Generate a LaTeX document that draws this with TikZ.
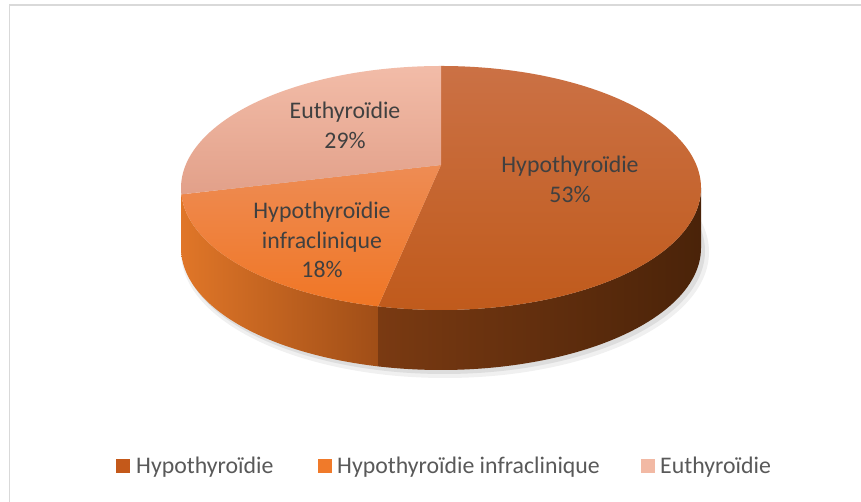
\documentclass[tikz,border=0pt]{standalone}
\usepackage{fontspec}
\setmainfont{Carlito}
\begin{document}
\begin{tikzpicture}[x=1pt,y=1pt]
\definecolor{frame}{HTML}{D9D9D9}
\definecolor{hypoTopA}{HTML}{CB7145}
\definecolor{hypoTopB}{HTML}{C05A1B}
\definecolor{infraTopA}{HTML}{EE8C54}
\definecolor{infraTopB}{HTML}{F07625}
\definecolor{euTopA}{HTML}{F2BCA8}
\definecolor{euTopB}{HTML}{E2A089}
\definecolor{infraSideA}{HTML}{E07628}
\definecolor{infraSideB}{HTML}{A04E17}
\definecolor{hypoSideA}{HTML}{7A3A12}
\definecolor{hypoSideB}{HTML}{4A2309}
\definecolor{labeltext}{HTML}{404040}
\definecolor{legendtext}{HTML}{595959}
\definecolor{legHypo}{HTML}{C4591A}
\definecolor{legInfra}{HTML}{F07A2A}
\definecolor{legEu}{HTML}{F2B9A4}
\tikzset{
  lbl/.style={text=labeltext, font=\fontsize{23.8pt}{29.5pt}\selectfont, align=center, inner sep=0pt},
  legtxt/.style={text=legendtext, font=\fontsize{23.8pt}{29.5pt}\selectfont, inner sep=0pt, anchor=base west},
  legbox/.style={minimum width=14pt, minimum height=14pt, inner sep=0pt, anchor=south west},
  ell/.style={x radius=260pt, y radius=122pt}
}
\useasboundingbox (0,0) rectangle (861,502);
\fill[white] (0,0) rectangle (861,502);
% frame
\draw[frame, line width=1.5pt] (9.5,0) -- (9.5,497) -- (861,497);

\coordinate (E) at (441,314);
\coordinate (C) at (441,337);
\coordinate (Ptop) at ([shift={(E)}]90:260pt and 122pt);
\coordinate (Pleft) at ([shift={(E)}]183:260pt and 122pt);
\coordinate (Pbot) at ([shift={(E)}]256:260pt and 122pt);
\coordinate (Pw) at ([shift={(E)}]180:260pt and 122pt);

% shadow
\fill[black, opacity=0.06] (445,250) ellipse[x radius=264pt, y radius=126pt];
\fill[black, opacity=0.08] (444,251) ellipse[x radius=261pt, y radius=123pt];

% sides
\path[left color=infraSideA, right color=infraSideB]
  (Pw) arc[start angle=180, end angle=256, ell] -- ++(0,-60)
  arc[start angle=256, end angle=180, ell] -- cycle;
\path[left color=hypoSideA, right color=hypoSideB]
  (Pbot) arc[start angle=256, end angle=360, ell] -- ++(0,-60)
  arc[start angle=360, end angle=256, ell] -- cycle;

% tops
\path[top color=hypoTopA, bottom color=hypoTopB]
  (C) -- (Ptop) arc[start angle=90, end angle=-104, ell] -- cycle;
\path[top color=infraTopA, bottom color=infraTopB]
  (C) -- (Pbot) arc[start angle=256, end angle=183, ell] -- cycle;
\path[top color=euTopA, bottom color=euTopB]
  (C) -- (Pleft) arc[start angle=183, end angle=90, ell] -- cycle;

% labels
\node[lbl] (lEu) at (345,376.5) {Euthyroïdie\\29\%};
\node[lbl] (lHypo) at (570,322.5) {Hypothyroïdie\\53\%};
\node[lbl] (lInfra) at (322,262) {Hypothyroïdie\\infraclinique\\18\%};

% legend
\node[legbox, fill=legHypo] (kHypo) at (116,29) {};
\node[legtxt] (tHypo) at (136,28) {Hypothyroïdie};
\node[legbox, fill=legInfra] (kInfra) at (318,29) {};
\node[legtxt] (tInfra) at (337,28) {Hypothyroïdie infraclinique};
\node[legbox, fill=legEu] (kEu) at (641,29) {};
\node[legtxt] (tEu) at (660,28) {Euthyroïdie};
\end{tikzpicture}
\end{document}
